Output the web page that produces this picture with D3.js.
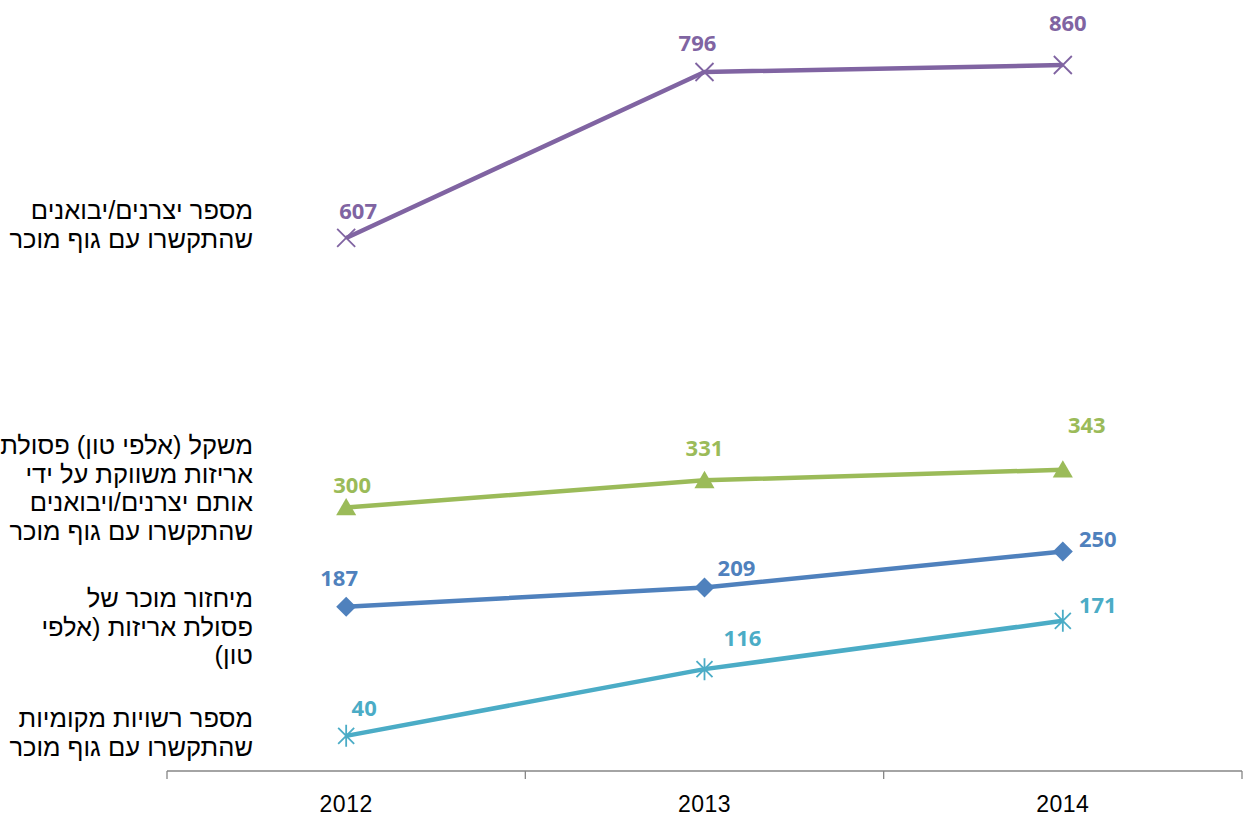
<!DOCTYPE html>
<html>
<head>
<meta charset="utf-8">
<script src="https://cdn.jsdelivr.net/npm/d3@7"></script>
<style>
  body { margin: 0; background: #fff; }
  svg { display: block; }
</style>
</head>
<body>
<div class="chart"></div>
<script>
// data
const years = ["2012", "2013", "2014"];
const producers = [607, 796, 860];       // מספר יצרנים/יבואנים
const packagingWeight = [300, 331, 343]; // משקל פסולת אריזות (אלפי טון)
const recycling = [187, 209, 250];       // מיחזור מוכר (אלפי טון)
const authorities = [40, 116, 171];      // מספר רשויות מקומיות

const seriesNames = [
    ["מספר יצרנים/יבואנים", "שהתקשרו עם גוף מוכר"],
    ["משקל (אלפי טון) פסולת", "אריזות משווקת על ידי", "אותם יצרנים/ויבואנים", "שהתקשרו עם גוף מוכר"],
    ["מיחזור מוכר של", "פסולת אריזות (אלפי", "טון)"],
    ["מספר רשויות מקומיות", "שהתקשרו עם גוף מוכר"]
];

const width = 1244;
const height = 819;

const series = [
    { values: producers, color: "#8064A2", marker: "x",
      nudge: [[12, -28], [-7, -30], [5, -43]], nameY: 219 },
    { values: packagingWeight, color: "#9BBB59", marker: "triangle",
      nudge: [[6, -24], [0, -33], [24, -46]], nameY: 454 },
    { values: recycling, color: "#4F81BD", marker: "diamond",
      nudge: [[-7, -30], [32, -20], [35, -13]], nameY: 607 },
    { values: authorities, color: "#4BACC6", marker: "star",
      nudge: [[18, -29], [38, -32], [35, -17]], nameY: 727 }
];

const svg = d3.select(".chart").append("svg")
    .attr("width", width)
    .attr("height", height);

const xScale = d3.scaleBand()
    .domain(years)
    .range([167, 1242]);

// the source squeezes the top of the range, so the scale has a second segment
const yScale = d3.scaleLinear()
    .domain([0, 796, 860])
    .range([771, 72, 65]);

// x axis with ticks between categories
const axisY = yScale(0);
svg.append("line")
    .attr("x1", xScale.range()[0]).attr("x2", xScale.range()[1])
    .attr("y1", axisY).attr("y2", axisY)
    .style("stroke", "#868686")
    .style("stroke-width", 1.3);

const bounds = years.map(d => xScale(d)).concat([xScale.range()[1]]);
svg.selectAll(".tick")
    .data(bounds)
    .enter().append("line")
    .attr("class", "tick")
    .attr("x1", d => d).attr("x2", d => d)
    .attr("y1", axisY).attr("y2", axisY + 8)
    .style("stroke", "#868686")
    .style("stroke-width", 1.3);

svg.selectAll(".yearLabel")
    .data(years)
    .enter().append("text")
    .attr("class", "yearLabel")
    .attr("x", d => xScale(d) + xScale.bandwidth() / 2)
    .attr("y", 812)
    .attr("text-anchor", "middle")
    .style("font-family", "'Liberation Sans', Arial, sans-serif")
    .style("font-size", "23px")
    .style("letter-spacing", "0.5px")
    .style("fill", "#000")
    .text(d => d);

const cx = d => xScale(d) + xScale.bandwidth() / 2;

const line = d3.line()
    .x((d, i) => cx(years[i]))
    .y(d => yScale(d));

function markerPath(type) {
    if (type === "x") return "M-9,-9L9,9M-9,9L9,-9";
    if (type === "star") return "M-8,-8L8,8M-8,8L8,-8M0,-11L0,11";
    if (type === "triangle") return d3.symbol(d3.symbolTriangle, 175)();
    return d3.symbol(d3.symbolSquare, 200)();
}

series.forEach(s => {
    svg.append("path")
        .datum(s.values)
        .attr("d", line)
        .attr("fill", "none")
        .style("stroke", s.color)
        .style("stroke-width", 4.5)
        .style("stroke-linejoin", "round");

    const filled = s.marker === "triangle" || s.marker === "diamond";
    svg.selectAll(".m-" + s.marker)
        .data(s.values)
        .enter().append("path")
        .attr("class", "m-" + s.marker)
        .attr("d", markerPath(s.marker))
        .attr("transform", (d, i) => "translate(" + cx(years[i]) + "," + yScale(d) + ")" +
            (s.marker === "diamond" ? " rotate(45)" : "") +
            (s.marker === "triangle" ? " translate(0,2)" : ""))
        .style("fill", filled ? s.color : "none")
        .style("stroke", s.color)
        .style("stroke-width", filled ? 0 : 1.8);

    svg.selectAll(".v-" + s.marker)
        .data(s.values)
        .enter().append("text")
        .attr("class", "v-" + s.marker)
        .attr("x", (d, i) => cx(years[i]) + s.nudge[i][0])
        .attr("y", (d, i) => yScale(d) + s.nudge[i][1])
        .attr("text-anchor", "middle")
        .attr("dominant-baseline", "central")
        .style("font-family", "'Noto Sans', 'Open Sans', sans-serif")
        .style("font-weight", "bold")
        .style("font-size", "22px")
        .style("fill", s.color)
        .text(d => d);
});

// series names on the left
series.forEach((s, k) => {
    svg.selectAll(".name" + k)
        .data(seriesNames[k])
        .enter().append("text")
        .attr("class", "name" + k)
        .attr("direction", "rtl")
        .attr("text-anchor", "start")
        .attr("x", 253)
        .attr("y", (d, i) => s.nameY + i * 28.7)
        .style("font-family", "'Liberation Sans', Arial, sans-serif")
        .style("font-size", "25.5px")
        .style("fill", "#000")
        .text(d => d);
});
</script>
</body>
</html>
